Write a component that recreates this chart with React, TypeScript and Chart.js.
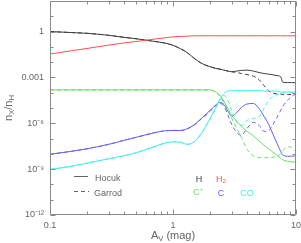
import React, { useEffect, useRef } from 'react';
import { Chart, registerables } from 'chart.js';

Chart.register(...registerables);

// Visual extinction grid (mag)
const AV = [0.1, 0.15, 0.2, 0.3, 0.4, 0.5, 0.7, 0.85, 1, 1.15, 1.3, 1.5, 1.7, 2, 2.2, 2.4, 2.6, 2.8, 3, 3.3, 3.6, 4, 4.5, 5, 5.5, 6, 6.5, 7, 7.5, 7.8, 8.5, 9.2, 10];

// Hocuk (solid)
const H_HOCUK = [1.0, 0.86, 0.77, 0.57, 0.42, 0.34, 0.23, 0.18, 0.127, 0.075, 0.043, 0.0168, 0.0085, 0.005, 0.004, 0.0035, 0.003, 0.0026, 0.0024, 0.0026, 0.0029, 0.003, 0.0026, 0.0021, 0.0018, 0.00164, 0.00148, 0.00131, 0.00113, 0.00049, 0.00046, 0.00046, 0.00046];
const H2_HOCUK = [0.034, 0.056, 0.079, 0.13, 0.18, 0.224, 0.32, 0.39, 0.45, 0.48, 0.5, 0.53, 0.53, 0.53, 0.53, 0.53, 0.53, 0.53, 0.53, 0.53, 0.53, 0.53, 0.53, 0.53, 0.53, 0.53, 0.53, 0.53, 0.53, 0.53, 0.53, 0.53, 0.53];
const CP_HOCUK = [1.53e-4, 1.53e-4, 1.53e-4, 1.53e-4, 1.53e-4, 1.53e-4, 1.53e-4, 1.53e-4, 1.53e-4, 1.53e-4, 1.53e-4, 1.53e-4, 1.53e-4, 1.53e-4, 1.19e-4, 7.0e-5, 2.65e-5, 9.3e-6, 3.26e-6, 1.33e-6, 6.3e-7, 2.96e-7, 1.5e-7, 7.1e-8, 3.6e-8, 2.15e-8, 1.27e-8, 8.1e-9, 5.2e-9, 4.1e-9, 3.3e-9, 2.97e-9, 2.84e-9];
const C_HOCUK = [9.4e-9, 1.48e-8, 2.15e-8, 4.2e-8, 7.7e-8, 1.2e-7, 2.37e-7, 3.2e-7, 3.4e-7, 3.4e-7, 4.3e-7, 8.5e-7, 2.08e-6, 6.9e-6, 1.46e-5, 2.29e-5, 1.7e-5, 5.9e-6, 3.0e-6, 5.1e-6, 1.08e-5, 1.83e-5, 1.97e-5, 9.3e-6, 2.8e-6, 8.5e-7, 1.89e-7, 4.9e-8, 1.48e-8, 8.7e-9, 7.0e-9, 7.0e-9, 7.5e-9];
const CO_HOCUK = [9.5e-10, 1.56e-9, 2.44e-9, 4.8e-9, 7.5e-9, 1.18e-8, 2.9e-8, 4.9e-8, 6.1e-8, 5.7e-8, 4.2e-8, 6.6e-8, 2.2e-7, 2.08e-6, 9.3e-6, 3.6e-5, 8.8e-5, 1.28e-4, 1.38e-4, 1.38e-4, 1.38e-4, 1.38e-4, 1.38e-4, 1.38e-4, 1.28e-4, 1.28e-4, 1.28e-4, 1.28e-4, 1.1e-4, 1.1e-4, 1.1e-4, 1.1e-4, 1.1e-4];

// Garrod (dashed)
const H_GARROD = [1.0, 0.86, 0.77, 0.57, 0.42, 0.34, 0.23, 0.18, 0.127, 0.075, 0.043, 0.0168, 0.0085, 0.005, 0.004, 0.0035, 0.003, 0.0026, 0.0023, 0.0021, 0.0018, 0.00152, 0.00122, 0.00072, 0.00029, 0.000129, 9.5e-5, 8.4e-5, 8.2e-5, 7.6e-5, 7.6e-5, 7.6e-5, 7.6e-5];
const CP_GARROD = [1.53e-4, 1.53e-4, 1.53e-4, 1.53e-4, 1.53e-4, 1.53e-4, 1.53e-4, 1.53e-4, 1.53e-4, 1.53e-4, 1.53e-4, 1.53e-4, 1.53e-4, 1.53e-4, 1.1e-4, 6.1e-5, 2.1e-5, 6.9e-6, 2.1e-6, 4.6e-7, 1.2e-7, 2.0e-8, 7.5e-9, 5.7e-9, 5.6e-9, 5.6e-9, 6.0e-9, 7.0e-9, 1.02e-8, 1.6e-8, 2.9e-8, 2.7e-8, 1.37e-8];
const C_GARROD = [9.4e-9, 1.48e-8, 2.15e-8, 4.2e-8, 7.7e-8, 1.2e-7, 2.37e-7, 3.2e-7, 3.4e-7, 3.4e-7, 4.3e-7, 7.9e-7, 1.93e-6, 5.9e-6, 1.36e-5, 1.97e-5, 1.26e-5, 3.26e-6, 8.5e-7, 2.5e-7, 1.62e-7, 4.6e-7, 1.15e-6, 7.3e-7, 2.96e-7, 3.4e-7, 8.5e-7, 2.4e-6, 6.9e-6, 1.26e-5, 3.1e-5, 5.6e-5, 8.8e-5];
const CO_GARROD = [9.5e-10, 1.56e-9, 2.44e-9, 4.8e-9, 7.5e-9, 1.18e-8, 2.9e-8, 4.9e-8, 6.1e-8, 5.7e-8, 4.2e-8, 6.6e-8, 2.2e-7, 1.8e-6, 8.0e-6, 3.1e-5, 6.5e-5, 3.1e-5, 6.9e-6, 1.15e-6, 7.3e-7, 1.55e-6, 2.08e-6, 2.8e-6, 9.3e-6, 3.1e-5, 5.6e-5, 7.6e-5, 8.8e-5, 9.5e-5, 1.02e-4, 1.02e-4, 1.02e-4];

// Axis ticks
const X_TICKS = [0.1, 0.2, 0.3, 0.4, 0.5, 0.6, 0.7, 0.8, 0.9, 1, 2, 3, 4, 5, 6, 7, 8, 9, 10];
const X_MAJOR = [0.1, 1, 10];
const X_LABELS = ['0.1', '1', '10'];
const Y_DECADES = [-12, -11, -10, -9, -8, -7, -6, -5, -4, -3, -2, -1, 0, 1, 2];
const Y_MAJOR = [-12, -9, -6, -3, 0];
const Y_LABELS = ['10⁻¹²', '10⁻⁹', '10⁻⁶', '0.001', '1'];

const SPECIES = ['H', 'H₂', 'C⁺', 'C', 'CO'];
const MODELS = ['Hocuk', 'Garrod'];

const COL_H = '#404040';
const COL_H2 = '#ff5050';
const COL_CP = '#66e066';
const COL_C = '#6060ff';
const COL_CO = '#44eeee';
const AXIS_COL = '#8a8a8a';
const TEXT_COL = '#666666';
const FONT = '"Liberation Sans", Arial, Helvetica, sans-serif';

function pts(vals: number[]) {
  return AV.map((x, i) => ({ x, y: vals[i] }));
}

function drawSubText(ctx: CanvasRenderingContext2D, parts: [string, number][], x: number, y: number, size: number, align: 'center' | 'left') {
  let total = 0;
  const widths = parts.map(([t, s]) => {
    ctx.font = `${s ? size * 0.7 : size}px ${FONT}`;
    const w = ctx.measureText(t).width;
    total += w;
    return w;
  });
  let cx = align === 'center' ? x - total / 2 : x;
  parts.forEach(([t, s], i) => {
    ctx.font = `${s ? size * 0.7 : size}px ${FONT}`;
    ctx.fillText(t, cx, y + (s ? size * 0.3 : 0));
    cx += widths[i];
  });
}

const framePlugin = {
  id: 'frame',
  afterDraw(chart: any) {
    const { ctx, chartArea } = chart;
    const xs = chart.scales.x;
    const ys = chart.scales.y;
    const L = Math.round(chartArea.left) + 0.5;
    const R = Math.round(chartArea.right) - 0.5;
    const T = Math.round(chartArea.top) + 0.5;
    const B = Math.round(chartArea.bottom) - 0.5;
    ctx.save();
    ctx.strokeStyle = AXIS_COL;
    ctx.lineWidth = 1;
    ctx.beginPath();
    ctx.rect(L, T, R - L, B - T);
    ctx.stroke();
    ctx.beginPath();
    X_TICKS.forEach((v) => {
      const px = Math.round(xs.getPixelForValue(v)) + 0.5;
      const len = X_MAJOR.includes(v) ? 5 : 3;
      ctx.moveTo(px, B);
      ctx.lineTo(px, B - len);
      ctx.moveTo(px, T);
      ctx.lineTo(px, T + len);
    });
    Y_DECADES.forEach((e) => {
      const py = Math.round(ys.getPixelForValue(Math.pow(10, e))) + 0.5;
      const len = Y_MAJOR.includes(e) ? 5 : 3;
      ctx.moveTo(L, py);
      ctx.lineTo(L + len, py);
      ctx.moveTo(R, py);
      ctx.lineTo(R - len, py);
    });
    ctx.stroke();

    // Axis titles
    ctx.fillStyle = TEXT_COL;
    ctx.textBaseline = 'middle';
    ctx.textAlign = 'left';
    drawSubText(ctx, [['A', 0], ['V', 1], [' (mag)', 0]], (chartArea.left + chartArea.right) / 2, 236, 11, 'center');
    ctx.save();
    ctx.translate(9, (chartArea.top + chartArea.bottom) / 2);
    ctx.rotate(-Math.PI / 2);
    drawSubText(ctx, [['n', 0], ['X', 1], ['/n', 0], ['H', 1]], 0, 0, 11, 'center');
    ctx.restore();

    // Model legend
    ctx.strokeStyle = '#666666';
    ctx.beginPath();
    ctx.moveTo(74, 176.5);
    ctx.lineTo(88, 176.5);
    ctx.stroke();
    ctx.setLineDash([4, 3]);
    ctx.beginPath();
    ctx.moveTo(74, 191.5);
    ctx.lineTo(89, 191.5);
    ctx.stroke();
    ctx.setLineDash([]);
    ctx.font = `9px ${FONT}`;
    ctx.fillStyle = TEXT_COL;
    ctx.fillText(MODELS[0], 95, 179);
    ctx.fillText(MODELS[1], 94, 194);

    // Species legend
    ctx.textAlign = 'center';
    ctx.fillStyle = COL_H;
    ctx.fillText(SPECIES[0], 199, 180);
    ctx.fillStyle = COL_H2;
    ctx.fillText(SPECIES[1], 221, 180);
    ctx.fillStyle = COL_CP;
    ctx.fillText(SPECIES[2], 198, 193);
    ctx.fillStyle = COL_C;
    ctx.fillText(SPECIES[3], 221, 194);
    ctx.fillStyle = COL_CO;
    ctx.fillText(SPECIES[4], 247, 194);
    ctx.restore();
  },
};

export default function App() {
  const ref = useRef<HTMLCanvasElement>(null);
  useEffect(() => {
    if (!ref.current) return;
    const ds = (label: string, vals: number[], color: string, dashed: boolean) => ({
      label,
      data: pts(vals),
      borderColor: color,
      backgroundColor: color,
      borderWidth: 1,
      borderDash: dashed ? [4, 3] : [],
      pointRadius: 0,
      fill: false,
      cubicInterpolationMode: 'monotone' as const,
    });
    const noPad = (s: any) => {
      s.paddingTop = 0;
      s.paddingBottom = 0;
      s.paddingLeft = 0;
      s.paddingRight = 0;
    };
    const chart = new Chart(ref.current, {
      type: 'line',
      data: {
        datasets: [
          ds('H2 Hocuk', H2_HOCUK, COL_H2, false),
          ds('C+ Garrod', CP_GARROD, COL_CP, true),
          ds('C+ Hocuk', CP_HOCUK, COL_CP, false),
          ds('CO Garrod', CO_GARROD, COL_CO, true),
          ds('CO Hocuk', CO_HOCUK, COL_CO, false),
          ds('C Garrod', C_GARROD, COL_C, true),
          ds('C Hocuk', C_HOCUK, COL_C, false),
          ds('H Garrod', H_GARROD, COL_H, true),
          ds('H Hocuk', H_HOCUK, COL_H, false),
        ],
      },
      options: {
        responsive: false,
        animation: false,
        layout: { padding: { top: 1, right: 5, bottom: 0, left: 0 } },
        plugins: { legend: { display: false }, tooltip: { enabled: false } },
        scales: {
          x: {
            type: 'logarithmic',
            min: 0.1,
            max: 10,
            grid: { display: false, drawTicks: false },
            border: { display: false },
            afterBuildTicks: (s: any) => {
              s.ticks = X_MAJOR.map((v) => ({ value: v }));
            },
            afterFit: (s: any) => {
              s.height = 28;
              noPad(s);
            },
            ticks: {
              autoSkip: false,
              maxRotation: 0,
              padding: 5,
              color: TEXT_COL,
              font: { size: 9, family: FONT },
              callback: (v: any) => {
                const i = X_MAJOR.findIndex((m) => Math.abs(m - Number(v)) < 1e-9);
                return i >= 0 ? X_LABELS[i] : '';
              },
            },
          },
          y: {
            type: 'logarithmic',
            min: 1e-12,
            max: 1e2,
            grid: { display: false, drawTicks: false },
            border: { display: false },
            afterBuildTicks: (s: any) => {
              s.ticks = Y_MAJOR.map((e) => ({ value: Math.pow(10, e) }));
            },
            afterFit: (s: any) => {
              s.width = 50;
              noPad(s);
            },
            ticks: {
              autoSkip: false,
              padding: 6,
              color: TEXT_COL,
              font: { size: 9, family: FONT },
              callback: (v: any) => {
                const e = Math.round(Math.log10(Number(v)));
                const i = Y_MAJOR.indexOf(e);
                return i >= 0 ? Y_LABELS[i] : '';
              },
            },
          },
        },
      },
      plugins: [framePlugin],
    });
    return () => chart.destroy();
  }, []);
  return (
    <div style={{ position: 'fixed', left: 0, top: 0, width: 301, height: 243, background: '#fff' }}>
      <canvas ref={ref} width={301} height={243} style={{ width: 301, height: 243 }} />
    </div>
  );
}
